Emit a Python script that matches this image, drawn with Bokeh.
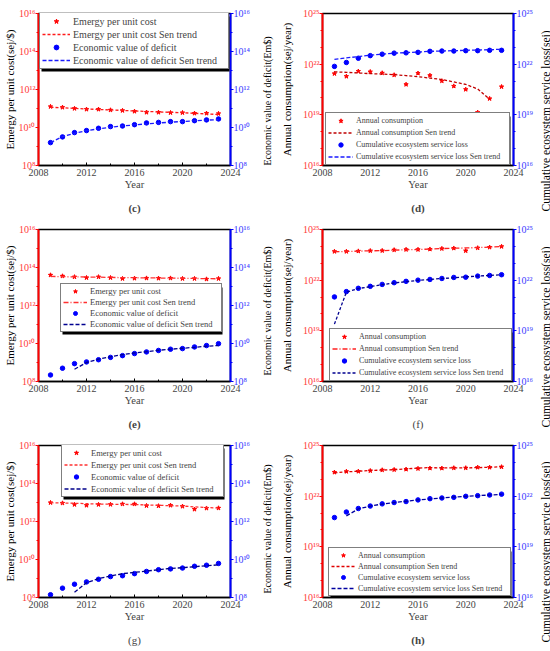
import math
from bokeh.plotting import figure
from bokeh.models import (Range1d, LogAxis, LinearAxis, FixedTicker, CustomJSTickFormatter,
                          Legend, LegendItem, BoxAnnotation, Title)
from bokeh.layouts import gridplot
from bokeh.embed import file_html
from bokeh.resources import INLINE

NaN = float("nan")
years = list(range(2009, 2024))
x_ticks = [2008, 2012, 2016, 2020, 2024]

# ---- panel (c)
c_cost = [1.26e11, 1.15e11, 1.0e11, 9.1e10, 9.1e10, 8.3e10, 7.8e10, 7.1e10, 6.3e10, 6.3e10, 6.0e10, 6.0e10, 5.6e10, 5.6e10, 5.4e10]
c_cost_trend = [1.15e11, 1.10e11, 1.02e11, 9.4e10, 8.9e10, 8.4e10, 7.9e10, 7.4e10, 7.0e10, 6.6e10, 6.3e10, 6.0e10, 5.6e10, 5.2e10, 4.8e10]
c_deficit = [1.6e9, 3.2e9, 5.4e9, 6.9e9, 9.1e9, 1.12e10, 1.2e10, 1.41e10, 1.74e10, 1.86e10, 2.04e10, 2.04e10, 2.29e10, 2.51e10, 2.82e10]
c_deficit_trend = [1.6e9, 3.3e9, 5.0e9, 6.8e9, 8.5e9, 1.03e10, 1.2e10, 1.38e10, 1.55e10, 1.73e10, 1.9e10, 2.08e10, 2.25e10, 2.43e10, 2.6e10]

# ---- panel (d)
d_cons = [2.75e21, 1.9e21, 3.8e21, 3.55e21, 3.0e21, 2.3e21, 6.3e20, 2.9e21, 2.15e21, 1.02e21, 5.0e20, 3.2e20, 1.4e19, 9.1e19, 4.6e20]
d_cons_trend = [3.5e21, 3.3e21, 3.0e21, 2.75e21, 2.6e21, 2.4e21, 2.1e21, 1.8e21, 1.5e21, 1.23e21, 8.9e20, 6.3e20, 3.4e20, 8.3e19, NaN]
d_loss = [7.4e21, 1.26e22, 2.24e22, 3.2e22, 3.9e22, 4.5e22, 4.7e22, 5.0e22, 5.75e22, 6.0e22, 6.0e22, 6.3e22, 6.3e22, 6.6e22, 6.6e22]
d_loss_trend = [1.9e22, 2.35e22, 2.8e22, 3.4e22, 3.9e22, 4.5e22, 4.8e22, 5.25e22, 5.75e22, 6.0e22, 6.3e22, 6.6e22, 6.9e22, 7.2e22, 7.6e22]

# ---- panel (e)
e_cost = [4.0e13, 3.55e13, 3.2e13, 2.9e13, 3.2e13, 2.9e13, 2.6e13, 2.7e13, 2.75e13, 2.7e13, 2.75e13, 2.6e13, 2.6e13, 2.45e13, 2.6e13]
e_cost_trend = [3.4e13, 3.3e13, 3.2e13, 3.15e13, 3.1e13, 3.0e13, 2.95e13, 2.9e13, 2.85e13, 2.8e13, 2.75e13, 2.7e13, 2.65e13, 2.6e13, 2.55e13]
e_deficit = [2.2e8, 5.0e8, 8.7e8, 1.07e9, 1.4e9, 1.86e9, 2.3e9, 2.95e9, 3.6e9, 4.3e9, 5.0e9, 5.4e9, 6.6e9, 7.8e9, 9.8e9]
e_deficit_trend = [NaN, NaN, 4.4e8, 1.0e9, 1.5e9, 2.0e9, 2.6e9, 3.2e9, 3.7e9, 4.4e9, 5.0e9, 5.6e9, 6.3e9, 7.2e9, 7.8e9]

# ---- panel (f)
f_cons = [5.0e23, 5.0e23, 5.25e23, 5.5e23, 5.6e23, 6.2e23, 6.5e23, 6.5e23, 6.8e23, 7.4e23, 7.8e23, 5.5e23, 8.1e23, 8.9e23, 9.8e23]
f_cons_trend = [4.8e23, 5.0e23, 5.25e23, 5.5e23, 5.6e23, 6.0e23, 6.3e23, 6.6e23, 6.9e23, 7.4e23, 7.8e23, 8.1e23, 8.5e23, 9.1e23, 9.8e23]
f_loss = [1.02e21, 2.1e21, 3.3e21, 4.3e21, 5.6e21, 7.1e21, 8.5e21, 1.0e22, 1.1e22, 1.26e22, 1.45e22, 1.5e22, 1.74e22, 1.9e22, 2.1e22]
f_loss_trend = [2.5e19, 1.95e21, 3.2e21, 4.1e21, 5.4e21, 6.8e21, 8.1e21, 9.6e21, 1.1e22, 1.26e22, 1.38e22, 1.58e22, 1.74e22, 1.9e22, 2.1e22]

# ---- panel (g)
g_cost = [9.8e12, 9.3e12, 7.8e12, 7.1e12, 7.8e12, 7.9e12, 8.3e12, 8.3e12, 6.8e12, 6.6e12, 7.1e12, 6.3e12, 4.4e12, 5.0e12, 5.1e12]
g_cost_trend = [9.8e12, 9.3e12, 9.1e12, 8.7e12, 8.3e12, 8.1e12, 7.9e12, 7.8e12, 7.4e12, 7.1e12, 6.8e12, 6.5e12, 5.9e12, 5.5e12, 5.1e12]
g_deficit = [1.4e8, 3.1e8, 5.0e8, 6.6e8, 9.1e8, 1.26e9, 1.4e9, 1.8e9, 2.35e9, 2.9e9, 3.2e9, 3.55e9, 4.4e9, 5.0e9, 6.2e9]
g_deficit_trend = [NaN, NaN, 1.9e8, 6.0e8, 9.8e8, 1.35e9, 1.8e9, 2.1e9, 2.45e9, 2.9e9, 3.4e9, 3.7e9, 4.2e9, 4.7e9, 5.2e9]

# ---- panel (h)
h_cons = [2.6e23, 2.9e23, 2.95e23, 3.2e23, 3.55e23, 3.7e23, 3.9e23, 4.3e23, 4.5e23, 4.5e23, 4.7e23, 4.7e23, 5.1e23, 5.1e23, 5.4e23]
h_cons_trend = [2.4e23, 2.75e23, 3.0e23, 3.3e23, 3.5e23, 3.7e23, 4.1e23, 4.6e23, 4.9e23, 4.7e23, 4.7e23, 4.7e23, 4.9e23, 5.1e23, 5.6e23]
h_loss = [5.4e20, 1.15e21, 1.86e21, 2.6e21, 3.5e21, 4.2e21, 4.8e21, 6.0e21, 7.1e21, 7.8e21, 8.5e21, 9.8e21, 1.07e22, 1.17e22, 1.32e22]
h_loss_trend = [NaN, 6.8e20, 1.74e21, 2.6e21, 3.4e21, 4.2e21, 5.0e21, 6.0e21, 6.8e21, 7.8e21, 8.9e21, 9.8e21, 1.07e22, 1.17e22, 1.29e22]

cost_labels = ["Emergy per unit cost", "Emergy per unit cost Sen trend",
               "Economic value of deficit", "Economic value of deficit Sen trend"]
cons_labels = ["Annual consumption", "Annual consumption Sen trend",
               "Cumulative ecosystem service loss", "Cumulative ecosystem service loss Sen trend"]

range_a = (1e8, 1e16)
ticks_a = [1e8, 1e10, 1e12, 1e14, 1e16]
minor_a = [1e9, 1e11, 1e13, 1e15]
range_b = (1e16, 1e25)
ticks_b = [1e16, 1e19, 1e22, 1e25]
minor_b = [1e17, 1e18, 1e20, 1e21, 1e23, 1e24]

FONT = "Liberation Serif"
SUP_JS = """
const s = {"0":"\u2070","1":"\u00b9","2":"\u00b2","3":"\u00b3","4":"\u2074","5":"\u2075","6":"\u2076","7":"\u2077","8":"\u2078","9":"\u2079","-":"\u207b"};
const e = Math.round(Math.log10(tick));
return "10" + String(e).split("").map(c => s[c]).join("");
"""

FRAME_H = 152
BT, BB = 13, 50


def style_y(ax, ticks, minor, color, label_color):
    ax.ticker = FixedTicker(ticks=ticks, minor_ticks=minor)
    ax.formatter = CustomJSTickFormatter(code=SUP_JS)
    ax.axis_line_color = color
    ax.axis_line_width = 2
    ax.major_tick_line_color = color
    ax.minor_tick_line_color = color
    ax.major_tick_in = 0
    ax.major_tick_out = 3
    ax.minor_tick_in = 0
    ax.minor_tick_out = 2
    ax.major_label_text_color = label_color
    ax.major_label_text_font = FONT
    ax.major_label_text_font_size = "10px"
    ax.major_label_standoff = 0


def panel(cfg):
    lo, hi = cfg["yr"]
    fw = cfg["fw"]
    p = figure(frame_width=fw, frame_height=FRAME_H, x_range=Range1d(2008, 2024),
               y_range=Range1d(lo, hi), y_axis_type="log",
               output_backend="svg", toolbar_location=None,
               min_border_left=cfg["bl"], min_border_right=cfg["br"],
               min_border_top=BT, min_border_bottom=BB)
    p.grid.visible = False
    p.outline_line_color = "black"
    p.outline_line_width = 1.5
    p.background_fill_color = "white"

    xa = p.xaxis[0]
    xa.ticker = FixedTicker(ticks=x_ticks, minor_ticks=[2010, 2014, 2018, 2022])
    xa.axis_line_color = "black"
    xa.axis_line_width = 1.5
    xa.major_tick_in = 3
    xa.major_tick_out = 0
    xa.minor_tick_in = 2
    xa.minor_tick_out = 0
    xa.major_label_text_font = FONT
    xa.major_label_text_font_size = "10px"
    xa.major_label_standoff = 3
    xa.axis_label = "Year"
    xa.axis_label_text_font = FONT
    xa.axis_label_text_font_size = "10.5px"
    xa.axis_label_text_font_style = "normal"
    xa.axis_label_standoff = 0

    # caption "(c)" etc. as a bare axis label under the x axis
    cap = LinearAxis(ticker=FixedTicker(ticks=[]), axis_line_color=None,
                     major_tick_line_color=None, minor_tick_line_color=None,
                     major_label_standoff=0, axis_label=cfg["cap"],
                     axis_label_standoff=9, axis_label_text_font=FONT,
                     axis_label_text_font_size="11px",
                     axis_label_text_font_style=cfg["capstyle"])
    p.add_layout(cap, "below")

    ya = p.yaxis[0]
    style_y(ya, cfg["ticks"], cfg["minor"], "#ff0000", "#ff3b3b")
    ya.axis_label = cfg["ylabel"]
    ya.axis_label_text_font = FONT
    ya.axis_label_text_font_size = "11px"
    ya.axis_label_text_font_style = "normal"
    ya.axis_label_text_color = "black"
    ya.axis_label_standoff = cfg["ylstand"]

    ra = LogAxis()
    style_y(ra, cfg["ticks"], cfg["minor"], "#0000ff", "#3b3bff")
    p.add_layout(ra, "right")

    r1 = p.scatter(years, cfg["a"], marker="star", size=4.5, color="#ff0000")
    r2 = p.line(years, cfg["at"], line_color=cfg["atc"], line_dash=cfg["atd"], line_width=1.3)
    r3 = p.scatter(years, cfg["b"], marker="circle", size=4.5, color="#0000ff")
    r4 = p.line(years, cfg["bt_"], line_color=cfg["btc"], line_dash=cfg["btd"], line_width=1.3)

    lx, ly, W, H = cfg["leg"]
    pad, sp = 2, 1
    rh = int(round((H - 2 * pad - 3 * sp) / 4.0))
    Ha = 2 * pad + 4 * rh + 3 * sp
    gw, ls = cfg["gw"], 3
    lw = int(W - 2 * pad - gw - ls)
    shadow = BoxAnnotation(left=lx + 2, right=lx + W + 2, bottom=ly - 2, top=ly + Ha - 2,
                           left_units="screen", right_units="screen",
                           top_units="screen", bottom_units="screen",
                           fill_color="black", fill_alpha=1, line_color=None)
    p.add_layout(shadow)
    items = [LegendItem(label=lab, renderers=[r]) for lab, r in zip(cfg["labels"], [r1, r2, r3, r4])]
    leg = Legend(items=items, location=(lx, ly), padding=pad, spacing=sp, margin=0,
                 glyph_width=gw, glyph_height=rh, label_height=rh, label_width=lw,
                 label_standoff=ls, label_text_font=FONT,
                 label_text_font_size=cfg["lfs"],
                 border_line_color="black", border_line_width=1,
                 background_fill_color="white", background_fill_alpha=1)
    p.add_layout(leg)
    return p


def right_label(p, cfg, stand):
    # secondary-axis title of a panel, drawn reading upwards in the next column's left border
    p.add_layout(Title(text=cfg["rlabel"], align="left", vertical_align="bottom",
                       offset=cfg["roff"], standoff=stand,
                       text_font=FONT, text_font_size=cfg["rsize"],
                       text_font_style="normal", text_color="black"), "left")


def spacer():
    s = figure(frame_width=1, frame_height=FRAME_H, x_axis_location=None, y_axis_location=None,
               output_backend="svg", toolbar_location=None,
               min_border_left=0, min_border_right=0, min_border_top=BT, min_border_bottom=BB)
    s.outline_line_color = None
    s.grid.visible = False
    return s


common_a = dict(yr=range_a, ticks=ticks_a, minor=minor_a, labels=cost_labels,
                ylabel="Emergy per unit cost(sej/$)", rlabel="Economic value of deficit(Em$)",
                rsize="10px", bl=30, br=22, fw=192, ylstand=0)
common_b = dict(yr=range_b, ticks=ticks_b, minor=minor_b, labels=cons_labels,
                ylabel="Annual consumption(sej/year)", rlabel="Cumulative ecosystem service loss(sej)",
                rsize="11.5px", bl=64, br=22, fw=191, ylstand=7)

cfgs = [
    dict(common_a, a=c_cost, at=c_cost_trend, b=c_deficit, bt_=c_deficit_trend,
         atc="#ff1a1a", atd="3 2", btc="#1a1aff", btd="4 2", roff=0,
         leg=(1, 96, 188, 57), gw=28, lfs="10px", cap="(c)", capstyle="bold"),
    dict(common_b, a=d_cons, at=d_cons_trend, b=d_loss, bt_=d_loss_trend,
         atc="#c00000", atd="3 2", btc="#1a1aff", btd="4 2", roff=-46,
         leg=(3, 0, 183, 50), gw=25, lfs="8px", cap="(d)", capstyle="bold"),
    dict(common_a, a=e_cost, at=e_cost_trend, b=e_deficit, bt_=e_deficit_trend,
         atc="#ff3030", atd="5 2 1 2", btc="#000090", btd="4 2", roff=6,
         leg=(22, 49, 160, 48), gw=24, lfs="8.5px", cap="(e)", capstyle="bold"),
    dict(common_b, a=f_cons, at=f_cons_trend, b=f_loss, bt_=f_loss_trend,
         atc="#ff2020", atd="5 2 1 2", btc="#000090", btd="3 2", roff=-46,
         leg=(7, 0, 181, 51), gw=24, lfs="8px", cap="(f)", capstyle="normal"),
    dict(common_a, a=g_cost, at=g_cost_trend, b=g_deficit, bt_=g_deficit_trend,
         atc="#ff3030", atd="3 2", btc="#00008b", btd="4 2", roff=4,
         leg=(23, 100, 161, 52), gw=24, lfs="8.5px", cap="(g)", capstyle="normal"),
    dict(common_b, a=h_cons, at=h_cons_trend, b=h_loss, bt_=h_loss_trend,
         atc="#e00000", atd="3 2", btc="#0000a0", btd="4 2", roff=-45,
         leg=(6, 1, 181, 47), gw=24, lfs="8px", cap="(h)", capstyle="bold"),
]

figs = [panel(c) for c in cfgs]
rows = []
for i in range(3):
    left, right = figs[2 * i], figs[2 * i + 1]
    sp_fig = spacer()
    right_label(right, cfgs[2 * i], 12)
    right_label(sp_fig, cfgs[2 * i + 1], 4)
    rows.append([left, right, sp_fig])

grid = gridplot(rows, toolbar_location=None)

open("out.html", "w").write(file_html(grid, INLINE))
